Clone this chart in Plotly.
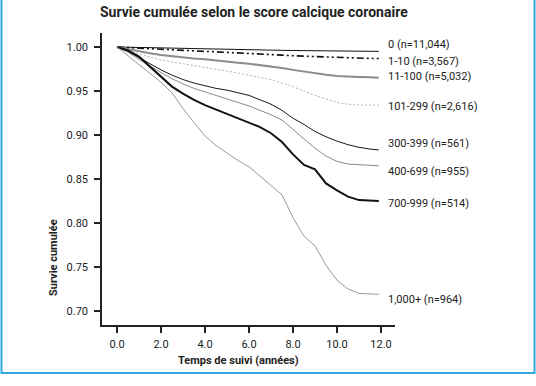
import plotly.graph_objects as go

# Time points (years)
t = [0, 0.5, 1.0, 1.5, 2.0, 2.5, 3.0, 3.5, 4.0, 4.5, 5.0, 5.5, 6.0, 6.5, 7.0, 7.5,
     8.0, 8.5, 9.0, 9.5, 10.0, 10.5, 11.0, 11.5, 11.9]

s_0 = [1.0, 0.9997, 0.9994, 0.9992, 0.999, 0.9987, 0.9985, 0.9982, 0.998, 0.9977, 0.9975,
       0.9972, 0.997, 0.9967, 0.9965, 0.9962, 0.996, 0.9958, 0.9957, 0.9956, 0.9955,
       0.9953, 0.9951, 0.995, 0.995]
s_1_10 = [1.0, 0.9993, 0.9985, 0.9978, 0.997, 0.9965, 0.996, 0.9955, 0.995, 0.9945, 0.994,
          0.9935, 0.993, 0.9923, 0.9916, 0.9908, 0.990, 0.9895, 0.989, 0.9885, 0.988,
          0.9876, 0.9872, 0.987, 0.987]
s_11_100 = [1.0, 0.9975, 0.995, 0.993, 0.991, 0.9895, 0.988, 0.987, 0.986, 0.9845, 0.983,
            0.982, 0.981, 0.9795, 0.978, 0.976, 0.974, 0.972, 0.970, 0.9685, 0.967,
            0.9662, 0.966, 0.9655, 0.965]
s_101_299 = [1.0, 0.9965, 0.992, 0.9885, 0.985, 0.983, 0.981, 0.979, 0.977, 0.975, 0.973,
             0.9705, 0.968, 0.9655, 0.963, 0.959, 0.955, 0.950, 0.945, 0.941, 0.937,
             0.935, 0.934, 0.934, 0.934]
s_300_399 = [1.0, 0.995, 0.988, 0.981, 0.974, 0.968, 0.963, 0.959, 0.956, 0.953, 0.951,
             0.948, 0.945, 0.940, 0.935, 0.928, 0.919, 0.912, 0.904, 0.898, 0.893,
             0.889, 0.886, 0.884, 0.883]
s_400_699 = [1.0, 0.994, 0.986, 0.978, 0.971, 0.964, 0.958, 0.953, 0.949, 0.945, 0.941,
             0.937, 0.933, 0.928, 0.923, 0.917, 0.906, 0.895, 0.885, 0.876, 0.870,
             0.867, 0.866, 0.865, 0.865]
s_700_999 = [1.0, 0.996, 0.989, 0.978, 0.966, 0.955, 0.947, 0.940, 0.934, 0.929, 0.924,
             0.919, 0.914, 0.909, 0.902, 0.892, 0.878, 0.866, 0.861, 0.845, 0.837,
             0.830, 0.826, 0.825, 0.825]
s_1000 = [1.0, 0.990, 0.980, 0.971, 0.960, 0.948, 0.930, 0.914, 0.899, 0.888, 0.879,
          0.871, 0.864, 0.853, 0.843, 0.832, 0.806, 0.785, 0.774, 0.752, 0.735,
          0.725, 0.720, 0.719, 0.719]

labels = ["0 (n=11,044)", "1-10 (n=3,567)", "11-100 (n=5,032)", "101-299 (n=2,616)",
          "300-399 (n=561)", "400-699 (n=955)", "700-999 (n=514)", "1,000+ (n=964)"]
label_y = [1.0023, 0.983, 0.966, 0.932, 0.890, 0.859, 0.8227, 0.7136]

series = [s_0, s_1_10, s_11_100, s_101_299, s_300_399, s_400_699, s_700_999, s_1000]
styles = [
    dict(color="#111111", width=1.0, dash="solid"),
    dict(color="#111111", width=1.6, dash="7px,3px,2px,3px,2px,3px"),
    dict(color="#8c8c8c", width=2.0, dash="solid"),
    dict(color="#b0b0b0", width=1.0, dash="2px,2px"),
    dict(color="#1a1a1a", width=1.0, dash="solid"),
    dict(color="#8a8a8a", width=1.0, dash="solid"),
    dict(color="#111111", width=2.0, dash="solid"),
    dict(color="#999999", width=1.0, dash="solid"),
]

fig = go.Figure()
for name, s, st in zip(labels, series, styles):
    fig.add_trace(go.Scatter(x=t, y=s, mode="lines", name=name, line=st,
                             showlegend=False, hoverinfo="skip"))

font_family = "Roboto, DejaVu Sans, sans-serif"
for lab, ly in zip(labels, label_y):
    fig.add_annotation(x=12.23, y=ly, xref="x", yref="y", text=lab, showarrow=False,
                       xanchor="left", yanchor="middle",
                       font=dict(size=11, color="#222222", family=font_family))

fig.add_annotation(x=(53 - 102) / 293, y=(325 - 258) / 292, xref="paper", yref="paper",
                   text="<b>Survie cumulée</b>", textangle=-90, showarrow=False,
                   xanchor="center", yanchor="middle",
                   font=dict(size=11, color="#222222", family=font_family))
fig.add_annotation(x=(238 - 102) / 293, y=(325 - 360) / 292, xref="paper", yref="paper",
                   text="<b>Temps de suivi (années)</b>", showarrow=False,
                   xanchor="center", yanchor="middle",
                   font=dict(size=11, color="#222222", family=font_family))
fig.add_annotation(x=(254 - 102) / 293, y=(325 - 12) / 292, xref="paper", yref="paper",
                   text="<b>Survie cumulée selon le score calcique coronaire</b>",
                   showarrow=False, xanchor="center", yanchor="middle",
                   font=dict(size=14, color="#222222", family=font_family))

# blue frame
fig.add_shape(type="rect", xref="paper", yref="paper",
              x0=(1.5 - 102) / 293, x1=(534.5 - 102) / 293,
              y0=(325 - 373) / 292, y1=(325 + 10) / 292,
              line=dict(color="#2aa7df", width=2), fillcolor="rgba(0,0,0,0)")

fig.update_layout(
    width=536, height=386,
    margin=dict(l=102, r=141, t=33, b=61),
    paper_bgcolor="white", plot_bgcolor="white",
    font=dict(family=font_family, size=11, color="#222222"),
)
fig.update_xaxes(range=[-0.682, 12.636], tickvals=[0, 2, 4, 6, 8, 10, 12],
                 tickformat=".1f", showgrid=False, zeroline=False,
                 showline=True, linecolor="#222222", linewidth=1.5,
                 ticks="outside", ticklen=6, tickwidth=1.5, tickcolor="#222222",
                 tickfont=dict(size=11), ticklabelstandoff=2)
fig.update_yaxes(range=[0.6841, 1.0159], tickvals=[0.70, 0.75, 0.80, 0.85, 0.90, 0.95, 1.00],
                 tickformat=".2f", showgrid=False, zeroline=False,
                 showline=True, linecolor="#222222", linewidth=1.5,
                 ticks="outside", ticklen=6, tickwidth=1.5, tickcolor="#222222",
                 tickfont=dict(size=11), ticklabelstandoff=4)

fig.write_html("out.html", config={"displayModeBar": False},
               post_script="document.body.style.margin='0';document.body.style.overflow='hidden';")
